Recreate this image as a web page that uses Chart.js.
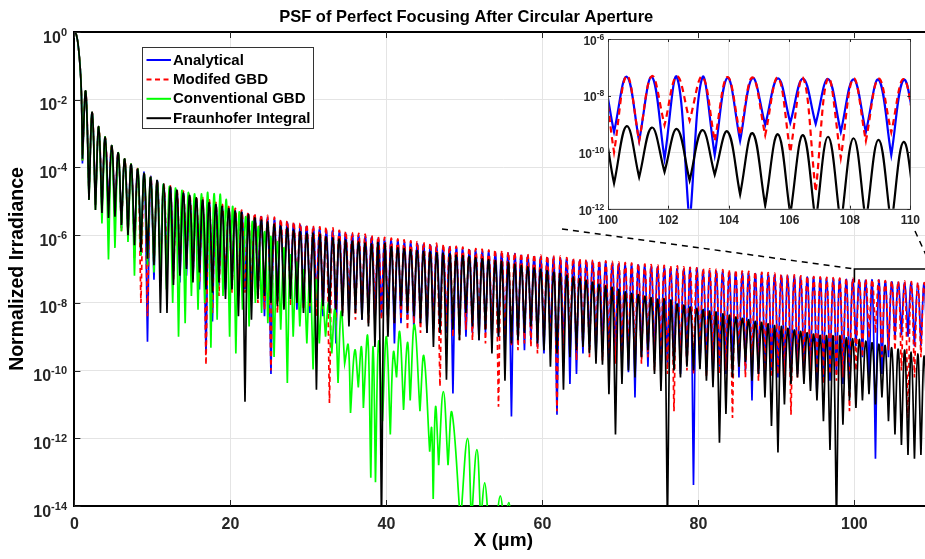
<!DOCTYPE html>
<html>
<head>
<meta charset="utf-8">
<script src="https://cdn.jsdelivr.net/npm/chart.js@4.4.1/dist/chart.umd.min.js"></script>
<style>
html,body{margin:0;padding:0;background:#fff;overflow:hidden;width:925px;height:559px;}
#wrap{position:absolute;left:0;top:0;width:940px;height:559px;}
#insetWrap{position:absolute;left:555px;top:30px;width:370px;height:205px;}
canvas{display:block;}
</style>
</head>
<body>
<div id="wrap"><canvas id="main" width="940" height="559"></canvas></div>
<div id="insetWrap"><canvas id="zoom" width="370" height="205"></canvas></div>
<script>
// ---------------- DATA ----------------
const chartTitle = 'PSF of Perfect Focusing After Circular Aperture';
const xAxisTitle = 'X (\u03bcm)';
const yAxisTitle = 'Normalized Irradiance';
const seriesLabels = ['Analytical', 'Modifed GBD', 'Conventional GBD', 'Fraunhofer Integral'];

const xTickValues = [0, 20, 40, 60, 80, 100];
const yTickValues = [1, 1e-2, 1e-4, 1e-6, 1e-8, 1e-10, 1e-12, 1e-14];
const insetXTicks = [100, 102, 104, 106, 108, 110];
const insetYTicks = [1e-6, 1e-8, 1e-10, 1e-12];
const zoomBoxX = [100, 110];
const zoomBoxY = [4e-8, 1e-7];

// central lobe (shared by all four curves)
const centralX = [0, 0.25, 0.5, 0.75, 0.9];
const centralY = [1, 0.83, 0.38, 0.082, 0.015];

// positions of the ring zeros and ring maxima, alternating (zero, max, zero, max ...)
const psfX = [
1.03,1.45,1.87,2.28,2.70,3.12,3.53,3.95,4.37,4.78,5.20,5.62,
6.03,6.45,6.87,7.28,7.70,8.12,8.53,8.95,9.37,9.78,10.20,10.62,
11.03,11.45,11.87,12.28,12.70,13.12,13.53,13.95,14.37,14.78,15.20,15.62,
16.03,16.45,16.87,17.28,17.70,18.12,18.53,18.95,19.37,19.78,20.20,20.62,
21.03,21.45,21.87,22.28,22.70,23.12,23.53,23.95,24.37,24.78,25.20,25.62,
26.03,26.45,26.87,27.28,27.70,28.12,28.53,28.95,29.37,29.78,30.20,30.62,
31.03,31.45,31.87,32.28,32.70,33.12,33.53,33.95,34.37,34.78,35.20,35.62,
36.03,36.45,36.87,37.28,37.70,38.12,38.53,38.95,39.37,39.78,40.20,40.62,
41.03,41.45,41.87,42.28,42.70,43.12,43.53,43.95,44.37,44.78,45.20,45.62,
46.03,46.45,46.87,47.28,47.70,48.12,48.53,48.95,49.37,49.78,50.20,50.62,
51.03,51.45,51.87,52.28,52.70,53.12,53.53,53.95,54.37,54.78,55.20,55.62,
56.03,56.45,56.87,57.28,57.70,58.12,58.53,58.95,59.37,59.78,60.20,60.62,
61.03,61.45,61.87,62.28,62.70,63.12,63.53,63.95,64.37,64.78,65.20,65.62,
66.03,66.45,66.87,67.28,67.70,68.12,68.53,68.95,69.37,69.78,70.20,70.62,
71.03,71.45,71.87,72.28,72.70,73.12,73.53,73.95,74.37,74.78,75.20,75.62,
76.03,76.45,76.87,77.28,77.70,78.12,78.53,78.95,79.37,79.78,80.20,80.62,
81.03,81.45,81.87,82.28,82.70,83.12,83.53,83.95,84.37,84.78,85.20,85.62,
86.03,86.45,86.87,87.28,87.70,88.12,88.53,88.95,89.37,89.78,90.20,90.62,
91.03,91.45,91.87,92.28,92.70,93.12,93.53,93.95,94.37,94.78,95.20,95.62,
96.03,96.45,96.87,97.28,97.70,98.12,98.53,98.95,99.37,99.78,100.20,100.62,
101.03,101.45,101.87,102.28,102.70,103.12,103.53,103.95,104.37,104.78,105.20,105.62,
106.03,106.45,106.87,107.28,107.70,108.12,108.53,108.95,109.37,109.78,110.20
];

// Analytical (blue)
const analyticalY = [
1.3e-4,1.75e-2,1.6e-5,4.2e-3,7.9e-6,1.6e-3,6.3e-6,7.8e-4,5.0e-6,4.4e-4,2.5e-6,2.7e-4,
1.6e-6,1.77e-4,1.3e-6,1.23e-4,3.2e-7,8.9e-5,2.5e-7,6.6e-5,7.1e-10,5.1e-5,4.8e-8,4.0e-5,
1.0e-7,3.2e-5,6.3e-8,2.6e-5,1.3e-7,2.1e-5,4.0e-8,1.75e-5,6.3e-8,1.47e-5,5.0e-8,1.25e-5,
2.5e-8,1.07e-5,3.2e-10,9.2e-6,2.8e-9,8.0e-6,3.2e-8,7.0e-6,2.5e-8,6.1e-6,4.0e-8,5.4e-6,
1.6e-8,4.8e-6,2.5e-8,4.3e-6,1.3e-8,3.8e-6,2.0e-8,3.5e-6,4.0e-9,3.1e-6,7.9e-11,2.8e-6,
1.3e-8,2.57e-6,1.0e-8,2.34e-6,1.6e-8,2.14e-6,6.3e-9,1.96e-6,1.0e-8,1.80e-6,5.0e-9,1.65e-6,
7.9e-9,1.53e-6,4.0e-9,1.41e-6,5.0e-9,1.31e-6,6.3e-10,1.21e-6,7.9e-9,1.13e-6,4.0e-9,1.05e-6,
6.3e-9,9.8e-7,3.2e-9,9.2e-7,5.0e-9,8.6e-7,2.5e-9,8.0e-7,4.0e-9,7.5e-7,3.2e-9,7.1e-7,
6.3e-10,6.7e-7,2.5e-9,6.3e-7,3.2e-9,5.9e-7,1.6e-9,5.6e-7,2.5e-9,5.3e-7,1.3e-9,5.0e-7,
2.0e-9,4.74e-7,1.6e-9,4.49e-7,1.3e-9,4.26e-7,2.1e-11,4.05e-7,1.6e-9,3.85e-7,1.0e-9,3.66e-7,
1.3e-9,3.49e-7,7.9e-10,3.32e-7,1.3e-9,3.17e-7,6.3e-10,3.02e-7,1.0e-9,2.89e-7,5.0e-10,2.76e-7,
4.4e-12,2.64e-7,6.3e-10,2.53e-7,4.0e-10,2.42e-7,7.9e-10,2.32e-7,5.0e-10,2.22e-7,3.2e-10,2.13e-7,
6.3e-10,2.05e-7,5.0e-12,1.97e-7,4.0e-10,1.89e-7,4.0e-11,1.82e-7,7.9e-11,1.75e-7,3.2e-10,1.68e-7,
5.0e-10,1.62e-7,2.5e-10,1.56e-7,4.0e-10,1.50e-7,2.0e-10,1.45e-7,3.2e-10,1.40e-7,1.6e-10,1.35e-7,
8.9e-11,1.30e-7,1.6e-11,1.26e-7,2.5e-10,1.22e-7,1.3e-10,1.17e-7,2.0e-10,1.14e-7,1.0e-10,1.10e-7,
1.6e-10,1.06e-7,1.3e-10,1.03e-7,7.9e-11,9.96e-8,1.6e-10,9.65e-8,4.2e-14,9.35e-8,1.3e-10,9.06e-8,
1.0e-10,8.8e-8,6.3e-11,8.5e-8,1.3e-10,8.3e-8,7.9e-11,8.0e-8,1.0e-10,7.8e-8,6.3e-11,7.6e-8,
1.0e-10,7.35e-8,1.3e-11,7.14e-8,7.9e-11,6.94e-8,5.0e-11,6.75e-8,1.0e-10,6.56e-8,6.3e-11,6.38e-8,
7.9e-11,6.21e-8,5.0e-11,6.04e-8,7.9e-11,5.88e-8,6.3e-11,5.73e-8,1.0e-10,5.58e-8,1.6e-11,5.43e-8,
6.3e-11,5.29e-8,5.0e-11,5.16e-8,7.9e-11,5.03e-8,4.0e-11,4.90e-8,6.3e-11,4.78e-8,5.2e-10,4.66e-8,
2.5e-10,4.55e-8,5.8e-11,4.44e-8,2.5e-13,4.33e-8,7.9e-11,4.23e-8,2.5e-10,4.13e-8,9.1e-10,4.03e-8,
1.1e-9,3.94e-8,1.0e-9,3.85e-8,5.2e-10,3.76e-8,5.2e-10,3.67e-8,7.9e-11,3.59e-8,5.0e-10
];

// Modifed GBD (red, dashed)
const modifiedGbdY = [
1.6e-4,1.75e-2,1.6e-5,4.2e-3,7.9e-6,1.6e-3,6.3e-6,7.8e-4,4.0e-6,4.4e-4,3.2e-6,2.7e-4,
1.3e-6,1.77e-4,1.1e-6,1.23e-4,2.0e-7,8.9e-5,1.0e-8,6.6e-5,4.0e-9,5.1e-5,1.0e-7,4.0e-5,
7.9e-8,3.2e-5,1.3e-7,3.0e-5,5.0e-8,2.4e-5,1.0e-7,2.0e-5,1.3e-7,1.7e-5,6.3e-8,1.44e-5,
4.0e-8,1.23e-5,1.5e-10,1.06e-5,5.0e-9,9.2e-6,1.6e-8,8.0e-6,4.0e-8,7.0e-6,2.0e-8,6.2e-6,
3.2e-8,5.5e-6,2.0e-8,4.9e-6,2.5e-8,4.4e-6,1.0e-8,4.0e-6,6.3e-9,3.6e-6,1.0e-10,3.2e-6,
5.0e-9,2.96e-6,1.6e-8,2.69e-6,7.9e-9,2.46e-6,1.0e-8,2.25e-6,6.3e-9,2.07e-6,7.9e-9,1.90e-6,
4.0e-9,1.76e-6,6.3e-9,1.62e-6,1.1e-11,1.51e-6,2.5e-9,1.39e-6,5.0e-9,1.30e-6,6.3e-9,1.21e-6,
3.2e-9,1.13e-6,5.0e-9,1.06e-6,2.5e-9,9.9e-7,4.0e-9,9.2e-7,3.2e-9,8.6e-7,2.0e-9,8.2e-7,
2.5e-9,7.7e-7,3.2e-9,7.2e-7,1.6e-9,6.8e-7,2.5e-9,6.4e-7,1.3e-9,6.1e-7,2.0e-9,5.75e-7,
1.6e-9,5.45e-7,3.4e-11,5.16e-7,2.0e-9,4.9e-7,1.0e-9,4.66e-7,7.9e-10,4.43e-7,1.6e-9,4.21e-7,
7.9e-10,4.01e-7,1.3e-9,3.82e-7,6.3e-10,3.65e-7,1.0e-9,3.47e-7,8.5e-12,3.32e-7,7.9e-10,3.17e-7,
5.0e-10,3.04e-7,4.0e-10,2.91e-7,6.3e-10,2.78e-7,5.0e-10,2.67e-7,3.2e-10,2.55e-7,6.3e-10,2.45e-7,
4.0e-10,2.36e-7,6.3e-12,2.27e-7,2.5e-10,2.17e-7,4.0e-10,2.09e-7,2.0e-10,2.01e-7,5.0e-10,1.93e-7,
2.5e-10,1.86e-7,4.0e-10,1.79e-7,2.0e-10,1.73e-7,3.2e-10,1.67e-7,1.6e-10,1.61e-7,2.5e-10,1.55e-7,
2.0e-10,1.50e-7,1.3e-10,1.45e-7,1.6e-10,1.40e-7,2.5e-10,1.35e-7,1.0e-10,1.31e-7,2.0e-10,1.27e-7,
7.9e-11,1.22e-7,6.3e-12,1.18e-7,1.6e-10,1.15e-7,1.0e-10,1.11e-7,7.9e-11,1.08e-7,1.6e-10,1.04e-7,
6.3e-11,1.01e-7,1.3e-10,9.8e-8,7.9e-11,9.5e-8,1.0e-10,9.2e-8,4.0e-12,9.0e-8,1.3e-10,8.7e-8,
6.3e-11,8.5e-8,1.0e-10,8.2e-8,5.0e-11,8.0e-8,1.0e-10,7.8e-8,6.3e-11,7.5e-8,7.9e-11,6.8e-8,
5.0e-11,6.6e-8,5.0e-12,6.5e-8,6.3e-11,6.3e-8,1.0e-10,6.1e-8,5.0e-11,6.0e-8,7.9e-11,5.8e-8,
4.0e-11,5.66e-8,7.9e-11,5.52e-8,5.0e-11,5.38e-8,6.3e-11,5.24e-8,6.3e-12,5.11e-8,1.0e-10,4.99e-8,
2.5e-10,4.87e-8,9.1e-10,4.75e-8,1.3e-9,4.63e-8,2.5e-10,4.53e-8,4.0e-10,4.42e-8,4.0e-10,4.31e-8,
1.0e-10,4.22e-8,4.0e-12,4.12e-8,6.3e-11,4.02e-8,2.5e-10,3.93e-8,5.0e-10,3.84e-8,3.2e-10
];

// Fraunhofer Integral (black)
const fraunhoferY = [
1.8e-4,1.75e-2,1.1e-5,4.2e-3,5.5e-6,1.6e-3,4.5e-6,7.8e-4,3.2e-6,4.4e-4,3.5e-6,2.7e-4,
2.0e-6,1.77e-4,1.0e-6,1.23e-4,5.0e-7,8.9e-5,3.2e-7,6.6e-5,2.0e-7,5.1e-5,1.3e-7,4.0e-5,
5.0e-9,3.2e-5,5.0e-9,2.6e-5,3.4e-8,2.1e-5,6.3e-8,1.75e-5,1.0e-7,1.47e-5,4.0e-8,1.25e-5,
7.9e-8,1.07e-5,2.5e-8,9.2e-6,2.0e-8,8.0e-6,4.0e-8,7.0e-6,1.3e-8,6.1e-6,2.5e-8,5.0e-6,
4.0e-9,4.3e-6,1.2e-11,3.7e-6,3.2e-9,3.2e-6,1.3e-8,2.8e-6,1.6e-8,2.45e-6,1.0e-8,2.1e-6,
7.9e-9,1.85e-6,6.3e-9,1.62e-6,1.3e-8,1.41e-6,1.0e-8,1.27e-6,5.0e-9,1.13e-6,1.0e-8,1.04e-6,
2.7e-11,9.6e-7,7.9e-9,8.9e-7,5.0e-9,8.3e-7,6.3e-9,7.6e-7,4.0e-9,7.1e-7,2.0e-9,6.6e-7,
5.0e-9,6.2e-7,3.2e-9,5.8e-7,2.0e-9,5.4e-7,5.0e-10,5.0e-7,3.2e-15,4.7e-7,1.0e-9,4.5e-7,
2.5e-9,4.2e-7,7.9e-9,4.0e-7,5.0e-9,3.7e-7,4.0e-9,3.5e-7,2.5e-9,3.3e-7,1.3e-9,3.15e-7,
5.0e-10,3.0e-7,1.3e-9,2.83e-7,5.4e-11,2.68e-7,1.6e-9,2.55e-7,7.9e-10,2.43e-7,5.0e-9,2.31e-7,
2.0e-9,2.15e-7,7.9e-10,2.0e-7,1.6e-9,1.87e-7,3.2e-10,1.74e-7,1.0e-9,1.62e-7,5.0e-11,1.52e-7,
6.3e-10,1.39e-7,7.9e-10,1.27e-7,1.3e-9,1.16e-7,2.0e-9,1.06e-7,6.3e-10,9.7e-8,4.0e-10,8.9e-8,
1.3e-10,8.0e-8,3.2e-10,7.2e-8,2.7e-11,6.4e-8,2.5e-10,5.75e-8,4.0e-10,5.2e-8,5.0e-10,4.6e-8,
3.2e-10,4.1e-8,1.6e-10,3.6e-8,1.5e-10,3.1e-8,2.0e-11,2.8e-8,1.3e-12,2.4e-8,4.0e-11,2.1e-8,
1.0e-10,1.9e-8,6.3e-11,1.74e-8,2.5e-10,1.57e-8,4.0e-10,1.40e-8,7.9e-11,1.28e-8,2.5e-11,1.15e-8,
3.2e-15,1.04e-8,1.0e-10,9.4e-9,6.3e-11,8.5e-9,1.3e-10,7.6e-9,1.0e-10,6.9e-9,1.1e-10,6.3e-9,
5.0e-11,5.7e-9,3.2e-11,5.1e-9,7.4e-13,4.65e-9,5.2e-12,4.2e-9,6.3e-11,3.8e-9,1.3e-10,3.5e-9,
1.8e-10,3.15e-9,5.0e-11,2.85e-9,7.9e-11,2.6e-9,1.6e-11,2.35e-9,2.3e-12,2.1e-9,3.8e-13,1.93e-9,
1.0e-11,1.75e-9,4.0e-11,1.58e-9,6.3e-11,1.44e-9,4.0e-11,1.31e-9,2.5e-11,1.19e-9,1.3e-11,1.09e-9,
3.2e-12,1.06e-9,4.5e-13,1.0e-9,3.2e-15,9.6e-10,2.5e-12,9.1e-10,1.3e-11,8.7e-10,7.9e-12,8.3e-10,
1.3e-11,7.4e-10,2.0e-11,6.6e-10,1.0e-11,6.0e-10,1.6e-11,5.4e-10,3.2e-12,4.7e-10,1.3e-12,4.3e-10,
6.3e-13,4.0e-10,3.2e-13,3.5e-10,2.5e-13,3.1e-10,3.2e-13,2.7e-10,2.5e-13,2.3e-10,4.0e-13
];

// Conventional GBD (green): its own zero / maximum positions, alternating
const conventionalX = [
1.03,1.45,1.87,2.28,2.70,3.12,3.53,3.95,4.37,4.78,5.20,5.62,6.03,6.45,6.87,7.28,7.70,8.12,8.53,8.95,9.37,9.78,10.20,10.62,11.03,
11.42,11.80,12.20,12.60,12.98,13.35,13.78,14.20,14.60,15.00,15.42,15.85,16.28,16.70,17.10,17.50,17.90,18.30,18.68,19.05,
19.48,19.90,20.30,20.70,21.12,21.55,21.98,22.40,22.80,23.20,23.60,24.00,24.40,24.80,25.20,25.60,26.02,26.45,26.88,27.30,
27.68,28.05,28.48,28.90,29.35,29.80,30.20,30.60,31.00,31.40,31.80,32.20,32.60,33.00,33.40,33.80,34.20,34.65,35.10,35.40,
35.95,36.40,36.80,37.05,37.60,38.00,38.30,38.60,39.00,39.50,40.00,40.50,40.90,41.30,41.70,42.20,42.70,43.05,43.60,44.30,
44.80,45.55,45.80,46.00,46.30,46.70,47.30,47.90,48.40,49.50,50.40,50.90,51.60,52.10,52.60,53.10,53.60,54.10,54.60,55.10,
55.70,56.00
];
const conventionalY = [
1.6e-4,1.75e-2,1.1e-5,4.2e-3,5.5e-6,1.6e-3,2.2e-6,7.8e-4,1.9e-7,4.4e-4,4.2e-7,2.7e-4,1.3e-6,1.77e-4,6.3e-7,1.23e-4,6.3e-8,8.9e-5,2.5e-7,6.6e-5,1.3e-7,5.1e-5,7.9e-8,4.0e-5,4.0e-8,
3.2e-5,2.5e-8,2.75e-5,1.0e-8,2.4e-5,1.0e-9,2.1e-5,2.5e-9,1.8e-5,1.6e-8,1.66e-5,6.3e-9,1.66e-5,1.0e-8,1.78e-5,4.7e-10,1.66e-5,3.2e-9,1.6e-5,1.6e-8,
1.1e-5,1.0e-9,7.1e-6,3.2e-10,4.7e-6,6.3e-9,3.5e-6,2.0e-9,2.5e-6,1.0e-8,1.8e-6,5.0e-9,1.26e-6,2.5e-9,8.9e-7,2.5e-10,6.3e-7,1.6e-9,4.0e-7,4.3e-11,
2.5e-7,1.0e-9,1.6e-7,2.0e-9,9.3e-8,6.3e-10,6.3e-8,1.07e-10,4.8e-8,6.3e-10,1.4e-8,1.0e-9,1.0e-8,3.2e-10,6.3e-9,4.3e-11,5.6e-9,1.6e-10,5.8e-10,5.6e-12,
4.0e-10,3.2e-11,5.0e-10,7.9e-12,1.05e-9,6.8e-14,5.1e-10,5.0e-14,7.1e-10,3.2e-12,1.0e-9,1.3e-12,3.5e-10,6.3e-11,1.4e-9,6.9e-12,6.8e-10,1.3e-11,2.3e-9,6.3e-12,
2.7e-10,4.0e-13,2.0e-12,1.6e-14,8.5e-12,1.6e-13,2.4e-11,1.6e-13,5.8e-12,3.2e-15,1.0e-12,3.2e-15,4.6e-13,3.2e-15,4.8e-14,3.2e-15,5.0e-15,3.2e-15,2.0e-14,3.2e-15,
1.26e-14,3.2e-15
];

// ---------------- RENDERING ----------------
const FONT = '"Liberation Sans", Arial, Helvetica, sans-serif';
Chart.defaults.font.family = FONT;
Chart.defaults.color = '#262626';

// zeros (even index) are given twice so that the spline ends in a sharp cusp there
function buildSeries(xs, ys) {
  const pts = centralX.map((x, i) => ({x: x, y: centralY[i]}));
  const n = Math.min(xs.length, ys.length);
  for (let i = 0; i < n; i++) {
    pts.push({x: xs[i], y: ys[i]});
    if (i % 2 === 0) pts.push({x: xs[i], y: ys[i]});
  }
  return pts;
}

const seriesDefs = [
  {label: seriesLabels[0], xs: psfX, ys: analyticalY, color: '#0000ff', dash: [], order: 4},
  {label: seriesLabels[1], xs: psfX, ys: modifiedGbdY, color: '#ff0000', dash: [5, 3.5], order: 3},
  {label: seriesLabels[2], xs: conventionalX, ys: conventionalY, color: '#00ff00', dash: [], order: 2},
  {label: seriesLabels[3], xs: psfX, ys: fraunhoferY, color: '#000000', dash: [], order: 1}
];

function makeDatasets(defs, width, dashScale) {
  return defs.map(d => ({
    label: d.label,
    data: buildSeries(d.xs, d.ys),
    borderColor: d.color,
    backgroundColor: d.color,
    borderDash: d.dash.map(v => v * dashScale),
    borderWidth: width,
    pointRadius: 0,
    pointHoverRadius: 0,
    tension: 0.4,
    fill: false,
    clip: 0,
    order: d.order
  }));
}

function drawLogLabels(chart, cfg) {
  const {ctx, chartArea} = chart;
  const ys = chart.scales.y;
  ctx.save();
  ctx.fillStyle = '#262626';
  ctx.textBaseline = 'alphabetic';
  ctx.textAlign = 'left';
  ys.ticks.forEach(t => {
    const py = ys.getPixelForValue(t.value);
    const es = String(Math.round(Math.log10(t.value)));
    ctx.font = 'bold ' + cfg.expSize + 'px ' + FONT;
    const we = ctx.measureText(es).width;
    ctx.font = 'bold ' + cfg.baseSize + 'px ' + FONT;
    const wb = ctx.measureText('10').width;
    const right = chartArea.left - cfg.gap;
    ctx.fillText('10', right - we - wb, py + cfg.baseDy);
    ctx.font = 'bold ' + cfg.expSize + 'px ' + FONT;
    ctx.fillText(es, right - we, py + cfg.expDy);
  });
  ctx.restore();
}

function drawInnerTicks(chart, len, sides) {
  const {ctx, chartArea: a} = chart;
  const xs = chart.scales.x, ys = chart.scales.y;
  ctx.save();
  ctx.strokeStyle = '#262626';
  ctx.lineWidth = 1;
  ctx.beginPath();
  xs.ticks.forEach(t => {
    const px = Math.round(xs.getPixelForValue(t.value)) + 0.5;
    ctx.moveTo(px, a.bottom); ctx.lineTo(px, a.bottom - len);
    ctx.moveTo(px, a.top); ctx.lineTo(px, a.top + len);
  });
  ys.ticks.forEach(t => {
    const py = Math.round(ys.getPixelForValue(t.value)) + 0.5;
    ctx.moveTo(a.left, py); ctx.lineTo(a.left + len, py);
    if (sides.right) { ctx.moveTo(a.right, py); ctx.lineTo(a.right - len, py); }
  });
  ctx.stroke();
  ctx.restore();
}

const mainDecor = {
  id: 'mainDecor',
  beforeDatasetsDraw(chart) {
    const {ctx} = chart;
    const xs = chart.scales.x, ys = chart.scales.y;
    const x0 = xs.getPixelForValue(zoomBoxX[0]), x1 = xs.getPixelForValue(zoomBoxX[1]);
    const yTop = ys.getPixelForValue(zoomBoxY[1]), yLow = ys.getPixelForValue(zoomBoxY[0]);
    ctx.save();
    ctx.strokeStyle = '#000';
    ctx.lineWidth = 1.6;
    ctx.beginPath();
    ctx.moveTo(x0, yLow); ctx.lineTo(x0, yTop); ctx.lineTo(x1, yTop); ctx.lineTo(x1, yLow);
    ctx.stroke();
    ctx.restore();
  },
  afterDatasetsDraw(chart) {
    const {ctx, chartArea: a} = chart;
    const xs = chart.scales.x, ys = chart.scales.y;
    // top box line
    ctx.save();
    ctx.strokeStyle = '#000';
    ctx.lineWidth = 2;
    ctx.beginPath(); ctx.moveTo(a.left, a.top); ctx.lineTo(a.right, a.top); ctx.stroke();
    ctx.restore();
    drawInnerTicks(chart, 6, {right: false});
    drawLogLabels(chart, {baseSize: 16, expSize: 11, gap: 7.4, baseDy: 10.5, expDy: 3.8});
    // legend
    const box = {x: 142.5, y: 47.5, w: 171, h: 81};
    ctx.save();
    ctx.fillStyle = '#fff';
    ctx.fillRect(box.x, box.y, box.w, box.h);
    ctx.strokeStyle = '#333';
    ctx.lineWidth = 1;
    ctx.strokeRect(box.x, box.y, box.w, box.h);
    chart.data.datasets.forEach((ds, i) => {
      const cy = 60 + i * 19.4;
      ctx.strokeStyle = ds.borderColor;
      ctx.lineWidth = 2;
      ctx.setLineDash(ds.borderDash || []);
      ctx.beginPath(); ctx.moveTo(146.5, cy); ctx.lineTo(171, cy); ctx.stroke();
      ctx.setLineDash([]);
      ctx.fillStyle = '#000';
      ctx.font = 'bold 15px ' + FONT;
      ctx.textBaseline = 'middle';
      ctx.textAlign = 'left';
      ctx.fillText(ds.label, 173, cy + 0.5);
    });
    ctx.restore();
    // dashed connectors from the inset to the zoom box
    const bx0 = xs.getPixelForValue(zoomBoxX[0]), bx1 = xs.getPixelForValue(zoomBoxX[1]);
    const by = ys.getPixelForValue(zoomBoxY[1]);
    ctx.save();
    ctx.strokeStyle = '#000';
    ctx.lineWidth = 1.5;
    ctx.setLineDash([6, 5]);
    ctx.beginPath();
    ctx.moveTo(562, 229); ctx.lineTo(bx0, by);
    ctx.moveTo(915, 231); ctx.lineTo(bx1, by);
    ctx.stroke();
    ctx.restore();
  }
};

const mainChart = new Chart(document.getElementById('main'), {
  type: 'line',
  data: {datasets: makeDatasets(seriesDefs, 1.7, 1)},
  options: {
    responsive: false,
    animation: false,
    devicePixelRatio: 1,
    events: [],
    layout: {padding: {left: 0, right: 7.6, top: 0, bottom: 0}},
    plugins: {
      legend: {display: false},
      tooltip: {enabled: false},
      title: {display: true, text: chartTitle, color: '#000', font: {size: 16.5, weight: 'bold'}, padding: {top: 7.4, bottom: 4.8}}
    },
    scales: {
      x: {
        type: 'linear', min: 0, max: 110,
        afterBuildTicks: s => { s.ticks = xTickValues.map(v => ({value: v})); },
        ticks: {font: {size: 16, weight: 'bold'}, color: '#262626', padding: 9, maxRotation: 0, autoSkip: false},
        grid: {color: '#e4e4e4', drawTicks: false, lineWidth: 1},
        border: {display: true, color: '#000', width: 2},
        title: {display: true, text: xAxisTitle, color: '#000', font: {size: 19, weight: 'bold'}, padding: {top: 0, bottom: 6.6}},
        afterFit: s => { s.height = 53; }
      },
      y: {
        type: 'logarithmic', min: 1e-14, max: 1,
        afterBuildTicks: s => { s.ticks = yTickValues.map(v => ({value: v})); },
        ticks: {display: false},
        grid: {color: '#e4e4e4', drawTicks: false, lineWidth: 1},
        border: {display: true, color: '#000', width: 2},
        title: {display: true, text: yAxisTitle, color: '#000', font: {size: 19.5, weight: 'bold'}, padding: {top: 5.5, bottom: 0}},
        afterFit: s => { s.width = 74.4; }
      }
    }
  },
  plugins: [mainDecor]
});

const insetDecor = {
  id: 'insetDecor',
  beforeDraw(chart) {
    const {ctx, chartArea: a} = chart;
    ctx.save();
    ctx.fillStyle = '#fff';
    ctx.fillRect(a.left, a.top, a.right - a.left, a.bottom - a.top);
    ctx.restore();
  },
  afterDraw(chart) {
    const {ctx, chartArea: a} = chart;
    ctx.save();
    ctx.strokeStyle = '#4d4d4d';
    ctx.lineWidth = 1;
    ctx.strokeRect(Math.round(a.left) + 0.5, Math.round(a.top) + 0.5, Math.round(a.right - a.left), Math.round(a.bottom - a.top));
    ctx.restore();
    drawInnerTicks(chart, 3, {right: true});
    drawLogLabels(chart, {baseSize: 12, expSize: 8.5, gap: 3.7, baseDy: 5.8, expDy: 0.8});
  }
};

const zoomChart = new Chart(document.getElementById('zoom'), {
  type: 'line',
  data: {datasets: makeDatasets(seriesDefs.filter(d => d.xs === psfX), 2.2, 1.25)},
  options: {
    responsive: false,
    animation: false,
    devicePixelRatio: 1,
    events: [],
    layout: {padding: {left: 0, right: 9.3, top: 9, bottom: 0}},
    plugins: {legend: {display: false}, tooltip: {enabled: false}, title: {display: false}},
    scales: {
      x: {
        type: 'linear', min: 100, max: 110,
        afterBuildTicks: s => { s.ticks = insetXTicks.map(v => ({value: v})); },
        ticks: {font: {size: 12, weight: 'bold'}, color: '#262626', padding: 5, maxRotation: 0, autoSkip: false},
        grid: {color: '#e4e4e4', drawTicks: false, lineWidth: 1},
        border: {display: false},
        afterFit: s => { s.height = 26.3; }
      },
      y: {
        type: 'logarithmic', min: 1e-12, max: 1e-6,
        afterBuildTicks: s => { s.ticks = insetYTicks.map(v => ({value: v})); },
        ticks: {display: false},
        grid: {color: '#e4e4e4', drawTicks: false, lineWidth: 1},
        border: {display: false},
        afterFit: s => { s.width = 53; }
      }
    }
  },
  plugins: [insetDecor]
});
</script>
</body>
</html>
